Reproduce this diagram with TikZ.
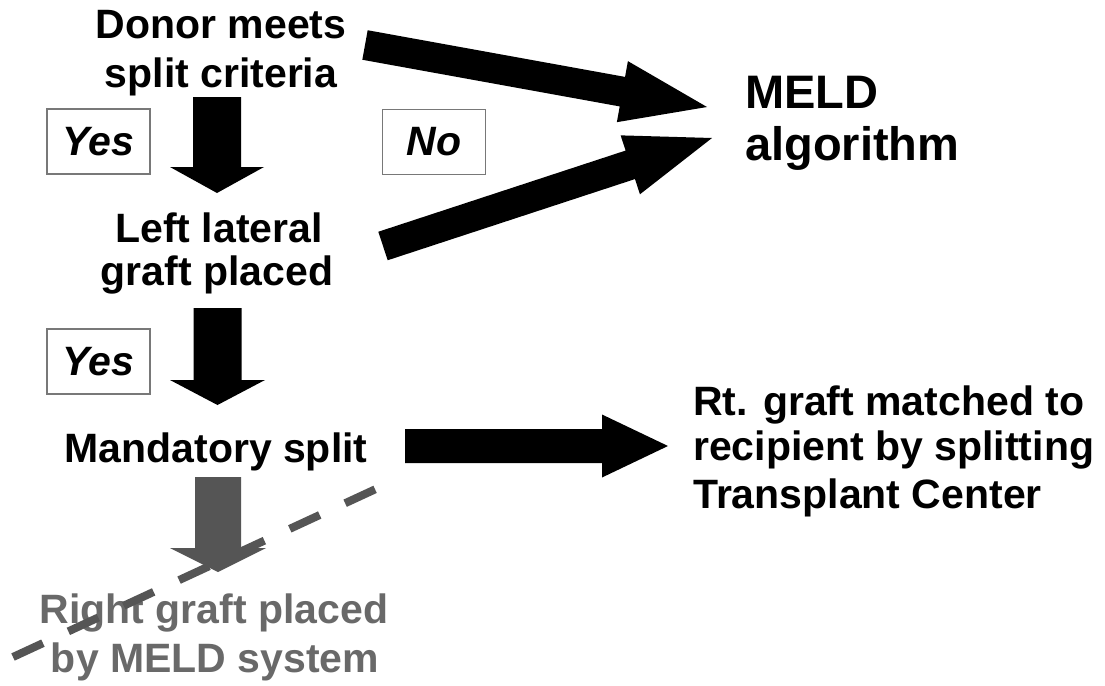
\documentclass[tikz,border=0pt]{standalone}
\usepackage{fontspec}
\setmainfont{Liberation Sans}
\usetikzlibrary{calc}
\definecolor{boxgray}{RGB}{120,120,120}
\definecolor{arrgray}{RGB}{85,85,85}
\definecolor{txtgray}{RGB}{105,105,105}
% #1 tail, #2 tip, #3 half shaft width, #4 half head width, #5 head length, #6 colour
\newcommand\blockarr[6]{%
  \path ($(#2)!#5!(#1)$) coordinate (hb);
  \fill[#6] ($(#1)!#3!90:(#2)$) -- ($(hb)!#3!90:(#2)$) -- ($(hb)!#4!90:(#2)$) -- (#2)
    -- ($(hb)!#4!-90:(#2)$) -- ($(hb)!#3!-90:(#2)$) -- ($(#1)!#3!-90:(#2)$) -- cycle;
}
\begin{document}
\begin{tikzpicture}[x=1pt,y=-1pt,
  lbl/.style={inner sep=0pt, font=\fontsize{41}{48}\selectfont\bfseries, anchor=base},
  lblw/.style={inner sep=0pt, font=\fontsize{41}{48}\selectfont\bfseries, anchor=base west},
  big/.style={inner sep=0pt, font=\fontsize{47}{52}\selectfont\bfseries, anchor=base west},
  ans/.style={draw=boxgray, line width=1.5pt, minimum width=103pt, minimum height=65pt,
    font=\fontsize{41}{46}\selectfont\bfseries\itshape, inner sep=0pt},
  dashline/.style={draw=arrgray, line width=8pt, dash pattern=on 33pt off 28pt}
]
\useasboundingbox (0,0) rectangle (1105,685);
\fill[white] (0,0) rectangle (1105,685);

% texts
\node[lbl] (donor1) at (221,39) {Donor meets};
\node[lbl] (donor2) at (221,87) {split criteria};
\node[lbl] (left1) at (219,242) {Left lateral};
\node[lbl] (left2) at (217,285) {graft placed};
\node[lbl] (mand) at (216,462) {Mandatory split};
\node[lbl, text=txtgray] (right1) at (214,623) {Right graft placed};
\node[lbl, text=txtgray] (right2) at (215,672) {by MELD system};
\node[big] (meld1) at (745,108) {MELD};
\node[big] (meld2) at (745,160) {algorithm};
\node[lblw] (rt1) at (693,415) {Rt. graft matched to};
\node[lblw] (rt2) at (693,460) {recipient by splitting};
\node[lblw] (rt3) at (693,508) {Transplant Center};

% answer boxes
\node[ans] (yes1) at (98.5,141.5) {Yes};
\node[ans] (no1) at (434,142) {No};
\node[ans] (yes2) at (98.5,361.5) {Yes};

% arrow end points
\coordinate (a1t) at (217,97);   \coordinate (a1h) at (217,193);
\coordinate (a2t) at (217.5,308); \coordinate (a2h) at (217.5,405);
\coordinate (a3t) at (218,477);  \coordinate (a3h) at (218,572);
\coordinate (d1t) at (365,45);   \coordinate (d1h) at (707,107);
\coordinate (d2t) at (383,246);  \coordinate (d2h) at (712,138);
\coordinate (h1t) at (405,446);  \coordinate (h1h) at (668,446);
\coordinate (dsA) at (13,657);   \coordinate (dsB) at (378,488);

\blockarr{a1t}{a1h}{24pt}{47pt}{26pt}{black}
\blockarr{a2t}{a2h}{24pt}{47.5pt}{25pt}{black}
\blockarr{a3t}{a3h}{23pt}{48pt}{24pt}{arrgray}
\blockarr{d1t}{d1h}{15pt}{31pt}{86pt}{black}
\blockarr{d2t}{d2h}{15pt}{31pt}{86pt}{black}
\blockarr{h1t}{h1h}{17pt}{31.5pt}{66pt}{black}

\draw[dashline] (dsA) -- (dsB);
\end{tikzpicture}
\end{document}
